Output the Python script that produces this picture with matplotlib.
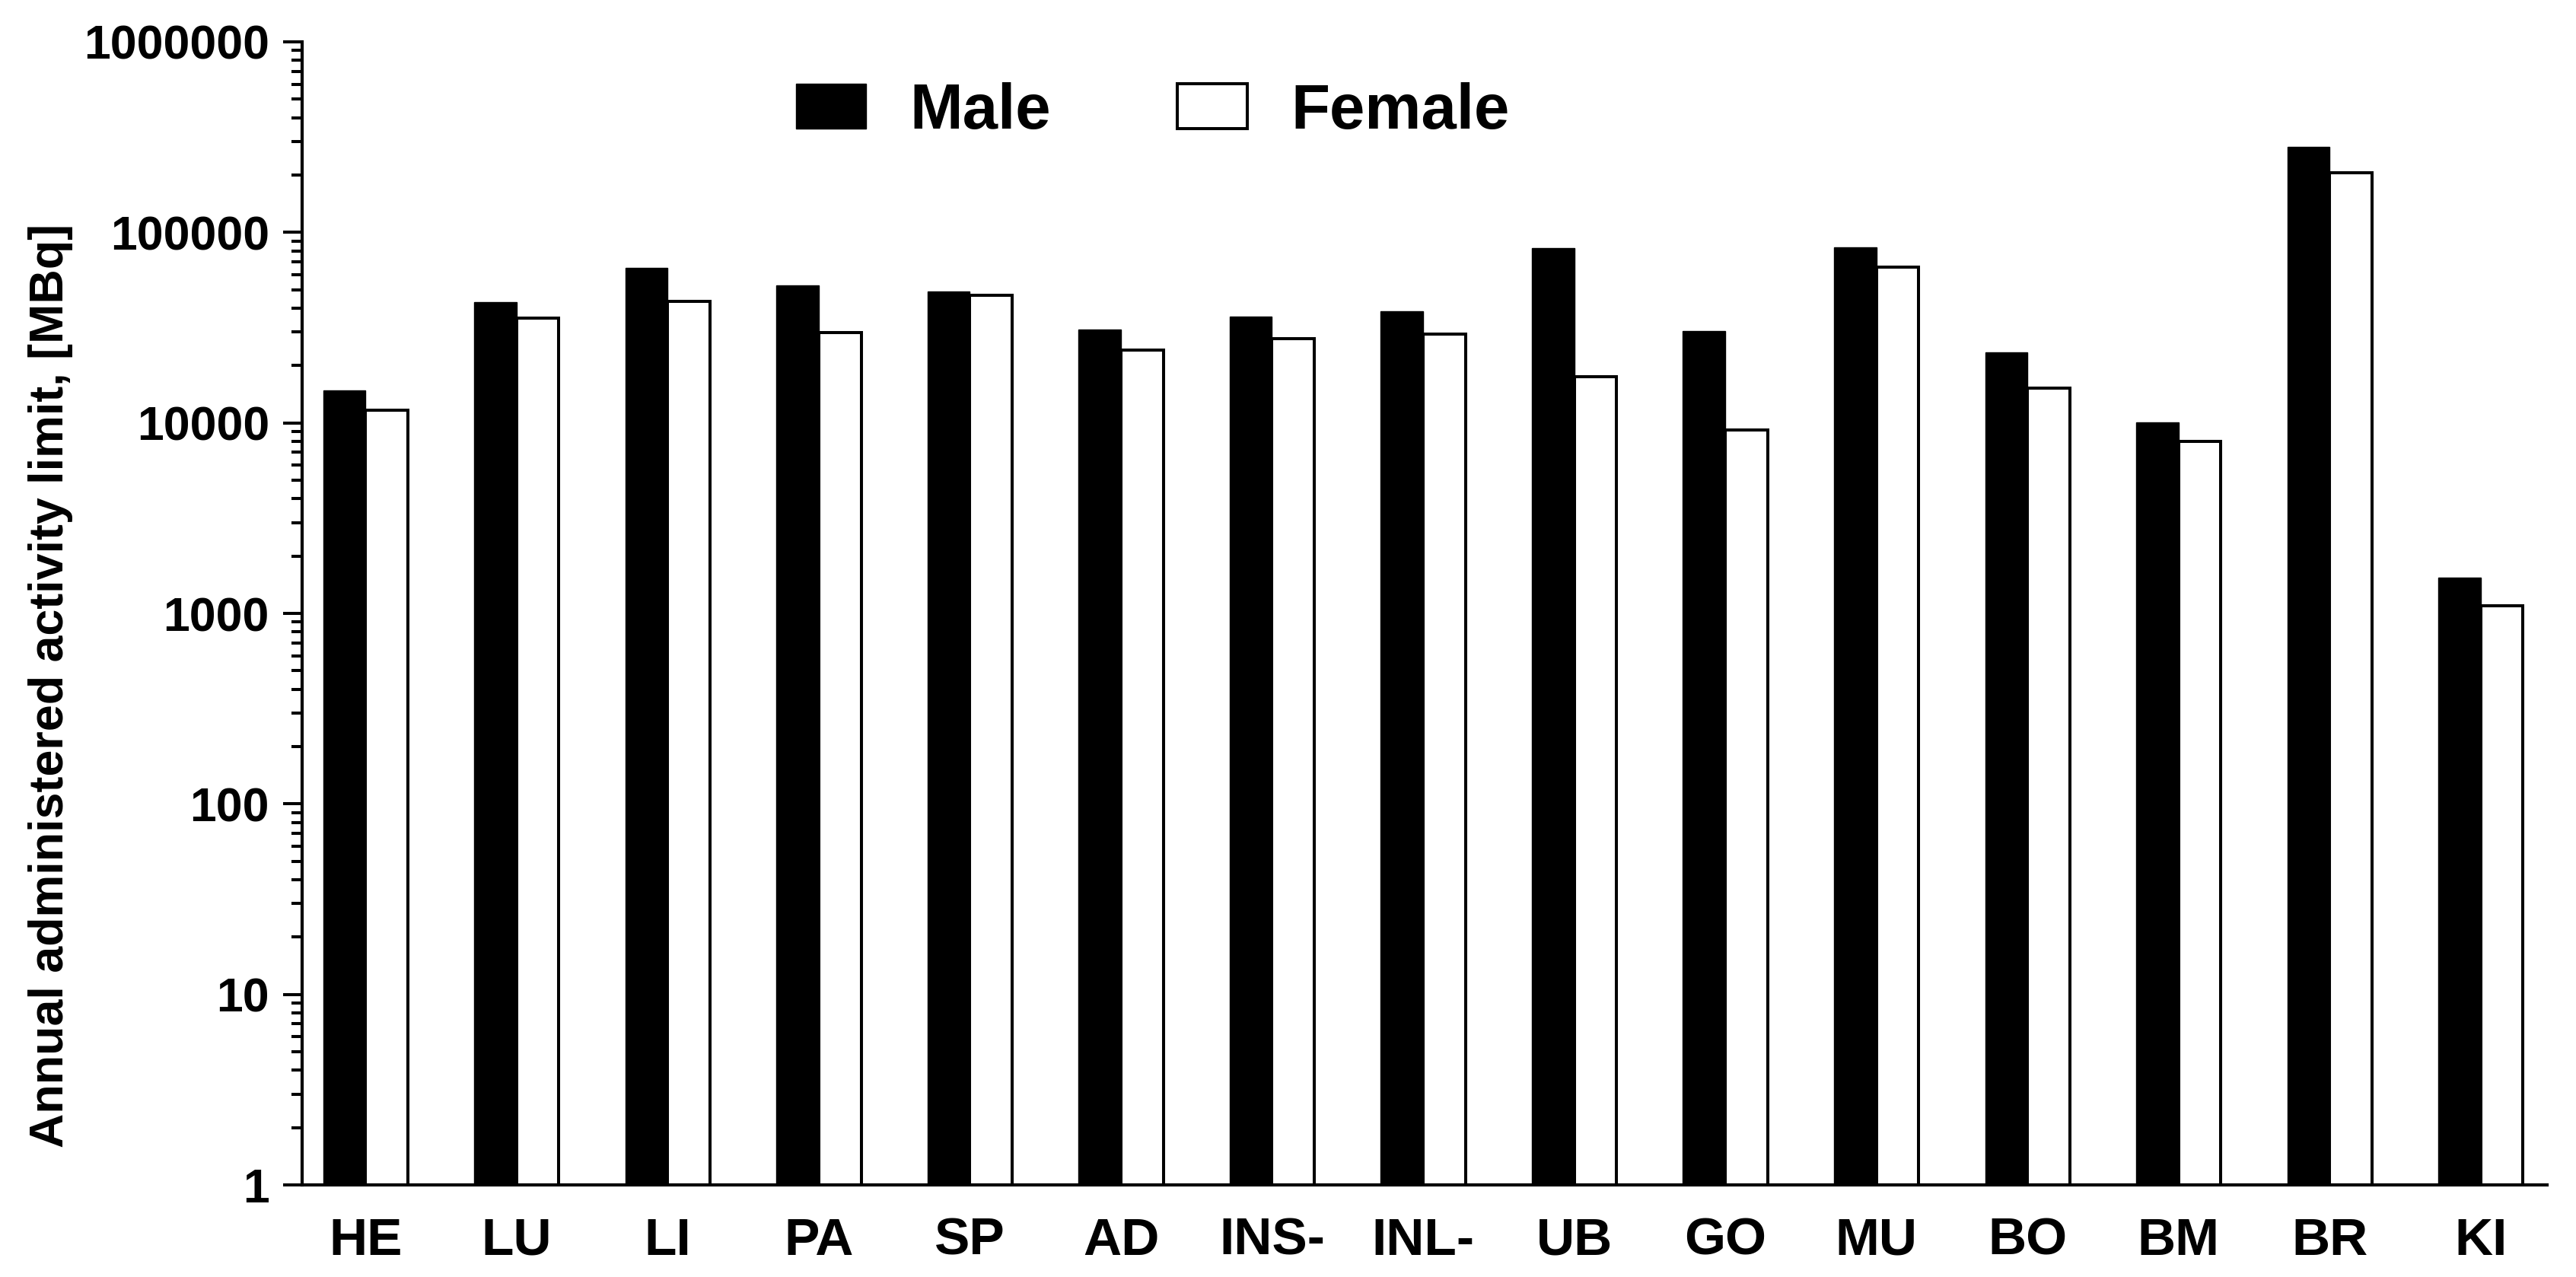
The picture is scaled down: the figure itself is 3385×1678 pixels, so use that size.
#!/usr/bin/env python3
"""
Annual administered activity limit by organ, male vs female (log scale)
"""
import matplotlib
matplotlib.use('Agg')
import matplotlib.pyplot as plt
from matplotlib import rcParams
import matplotlib.ticker as ticker
import numpy as np

rcParams['font.family'] = ['Liberation Sans', 'DejaVu Sans']
rcParams['font.weight'] = 'bold'

# Data (MBq)
organs = ['HE', 'LU', 'LI', 'PA', 'SP', 'AD', 'INS-', 'INL-', 'UB', 'GO',
          'MU', 'BO', 'BM', 'BR', 'KI']
male = [14800, 43100, 65000, 52800, 49000, 30900, 36200, 38600, 82800, 30400,
        83600, 23500, 10070, 281000, 1540]
female = [11700, 35500, 43500, 29800, 46800, 24100, 27700, 29300, 17500, 9190,
          65800, 15200, 8000, 206000, 1097]
y_ticks = [1, 10, 100, 1000, 10000, 100000, 1000000]

DPI = 200
fig = plt.figure(figsize=(3385 / DPI, 1678 / DPI), dpi=DPI)
ax = fig.add_axes([397 / 3385, 1 - 1557 / 1678, (3347 - 397) / 3385, (1557 - 55) / 1678])

x = np.arange(len(organs))
w = 0.28
ax.bar(x - w / 2, male, width=w, color='black', edgecolor='black', linewidth=0.5,
       label='Male', zorder=2)
ax.bar(x + w / 2, female, width=w, color='white', edgecolor='black', linewidth=1.45,
       label='Female', zorder=2)

ax.set_yscale('log')
ax.set_ylim(1, 1000000)
ax.set_xlim(-0.42, len(organs) - 1 + 0.44)
ax.set_yticks(y_ticks)
ax.yaxis.set_major_formatter(ticker.FuncFormatter(lambda v, p: f'{int(round(v))}'))
ax.yaxis.set_minor_locator(ticker.LogLocator(base=10, subs=np.arange(2, 10), numticks=20))
ax.yaxis.set_minor_formatter(ticker.NullFormatter())

ax.set_xticks(x)
ax.set_xticklabels(organs)
ax.tick_params(axis='x', length=0, pad=15, labelsize=25)
ax.tick_params(axis='y', which='major', length=9, width=1.45, pad=6.5, labelsize=22.5)
ax.tick_params(axis='y', which='minor', length=5, width=1.45)

for s in ['top', 'right']:
    ax.spines[s].set_visible(False)
for s in ['left', 'bottom']:
    ax.spines[s].set_linewidth(1.5)

ax.set_ylabel('Annual administered activity limit, [MBq]', fontsize=22.6, fontweight='bold',
              va='center')
ax.yaxis.set_label_coords(-0.112, 0.437)

fig.legend(loc='center left', bbox_to_anchor=(1046 / 3385, 1 - 147 / 1678),
           ncol=2, frameon=False, borderpad=0, borderaxespad=0,
           handlelength=1.1, handleheight=0.71, handletextpad=0.69, columnspacing=2.0,
           prop={'weight': 'bold', 'size': 30})

fig.savefig('out.png', dpi=DPI)
